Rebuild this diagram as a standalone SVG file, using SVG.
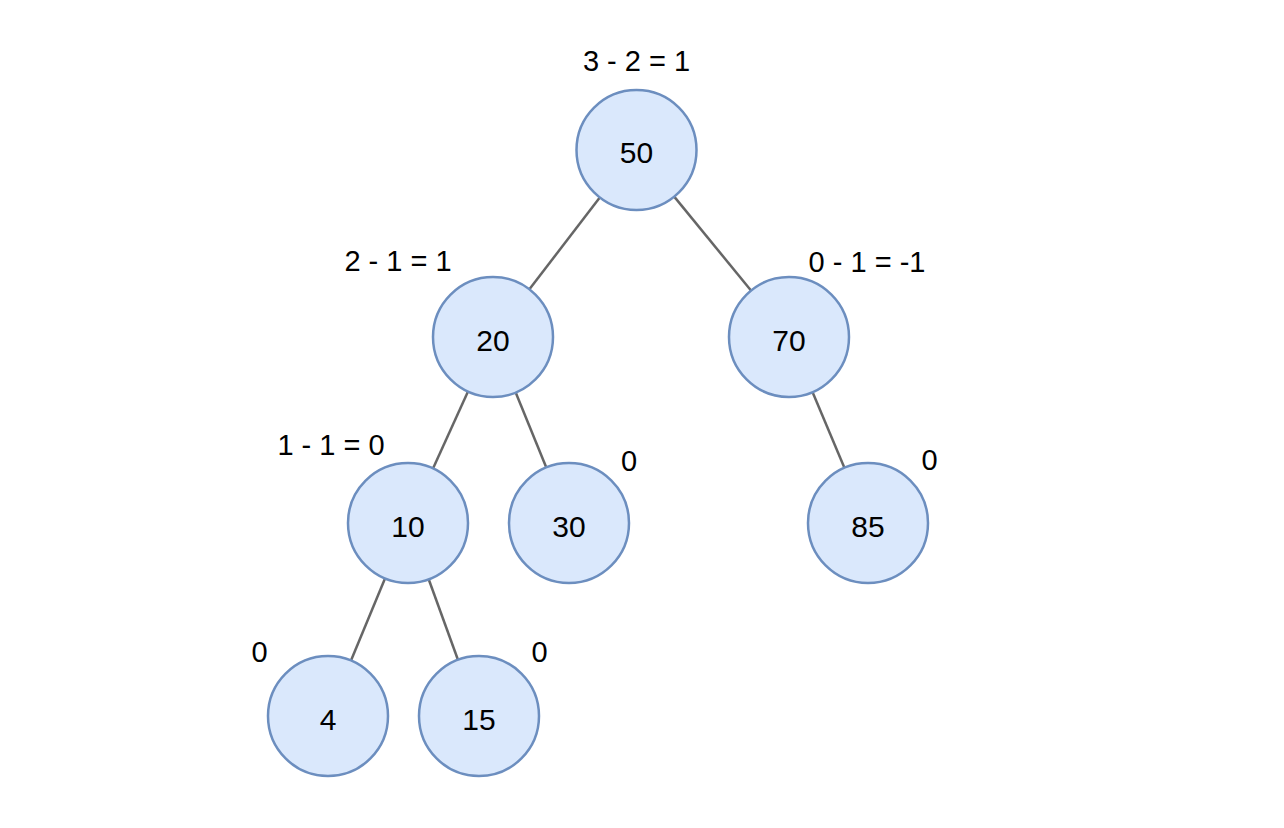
<svg xmlns="http://www.w3.org/2000/svg" width="1284" height="828" viewBox="0 0 1284 828">
<style>
.node circle{fill:#dae8fc;stroke:#6c8ebf;stroke-width:2.5}
.node text,.lbl{font-family:"Liberation Sans",Arial,sans-serif;font-size:29px;fill:#000;text-anchor:middle}
.node text{font-size:30px}
.edges line{stroke:#666;stroke-width:2.5}
</style>
<rect width="1284" height="828" fill="#fff"/>
<g class="edges">
<line x1="599.6" y1="197.7" x2="529.4" y2="289.3"/>
<line x1="674" y1="196.4" x2="751" y2="290.5"/>
<line x1="468" y1="391.6" x2="433" y2="468.4"/>
<line x1="515.7" y1="392.5" x2="546.3" y2="467.5"/>
<line x1="812.5" y1="392" x2="844.5" y2="468"/>
<line x1="385" y1="578.4" x2="351" y2="660.6"/>
<line x1="428.7" y1="579.3" x2="458.3" y2="660.7"/>
</g>
<g id="n50" class="node"><circle cx="636.5" cy="150" r="60"/><text x="636.5" y="163">50</text></g>
<g id="n20" class="node"><circle cx="493" cy="337" r="60"/><text x="493" y="351">20</text></g>
<g id="n70" class="node"><circle cx="789" cy="337" r="60"/><text x="789" y="351">70</text></g>
<g id="n10" class="node"><circle cx="408" cy="523" r="60"/><text x="408" y="537">10</text></g>
<g id="n30" class="node"><circle cx="569" cy="523" r="60"/><text x="569" y="537">30</text></g>
<g id="n85" class="node"><circle cx="868" cy="523" r="60"/><text x="868" y="537">85</text></g>
<g id="n4" class="node"><circle cx="328" cy="716" r="60"/><text x="328" y="730">4</text></g>
<g id="n15" class="node"><circle cx="479" cy="716" r="60"/><text x="479" y="730">15</text></g>
<g id="labels">
<text class="lbl" x="636.5" y="71">3 - 2 = 1</text>
<text class="lbl" x="398" y="271">2 - 1 = 1</text>
<text class="lbl" x="867" y="272">0 - 1 = -1</text>
<text class="lbl" x="331" y="455">1 - 1 = 0</text>
<text class="lbl" x="629" y="471">0</text>
<text class="lbl" x="929.5" y="470">0</text>
<text class="lbl" x="259.5" y="662">0</text>
<text class="lbl" x="539.5" y="662">0</text>
</g>
</svg>
